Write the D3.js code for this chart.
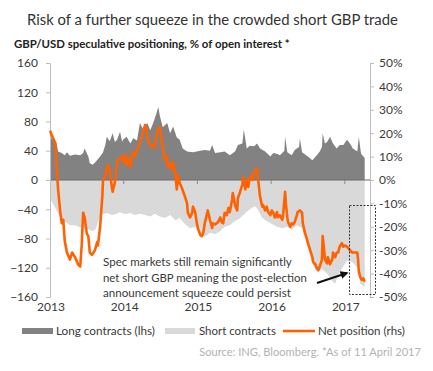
<!DOCTYPE html>
<html><head><meta charset="utf-8">
<script src="https://cdn.jsdelivr.net/npm/d3@7"></script>
<style>body{margin:0;background:#fff}svg{display:block}text{font-family:Lato,"Open Sans",sans-serif}</style>
</head><body><svg id="c" width="433" height="371"></svg>
<script>
// ---- data (decimal year, value) ----
const longContracts = [[2013.00,59],[2013.04,55],[2013.09,50],[2013.11,39],[2013.16,37],[2013.20,34],[2013.23,38],[2013.27,33],[2013.34,35],[2013.41,34],[2013.45,37],[2013.47,43],[2013.52,32],[2013.54,23],[2013.58,21],[2013.62,25],[2013.68,32],[2013.72,38],[2013.75,48],[2013.77,59],[2013.81,53],[2013.85,64],[2013.88,52],[2013.91,55],[2013.95,66],[2013.98,52],[2013.99,55],[2014.04,59],[2014.09,50],[2014.13,57],[2014.18,54],[2014.22,78],[2014.26,70],[2014.32,78],[2014.36,68],[2014.40,78],[2014.44,90],[2014.47,100],[2014.49,88],[2014.53,72],[2014.59,78],[2014.63,64],[2014.67,73],[2014.72,58],[2014.76,55],[2014.80,43],[2014.86,39],[2014.94,38],[2015.04,40],[2015.10,41],[2015.17,40],[2015.20,48],[2015.24,37],[2015.31,38],[2015.37,39],[2015.44,34],[2015.51,39],[2015.55,48],[2015.61,50],[2015.63,69],[2015.67,43],[2015.71,47],[2015.77,46],[2015.81,50],[2015.85,43],[2015.92,39],[2015.99,32],[2016.03,37],[2016.08,36],[2016.12,34],[2016.18,40],[2016.19,59],[2016.22,38],[2016.28,34],[2016.32,41],[2016.38,45],[2016.39,57],[2016.42,38],[2016.50,32],[2016.56,27],[2016.62,34],[2016.66,39],[2016.69,45],[2016.70,64],[2016.73,50],[2016.76,52],[2016.80,59],[2016.84,50],[2016.89,43],[2016.93,48],[2016.98,48],[2017.03,55],[2017.07,50],[2017.11,43],[2017.17,39],[2017.19,59],[2017.22,36],[2017.27,30]];

const shortContracts = [[2013.00,-25],[2013.04,-32],[2013.08,-40],[2013.12,-48],[2013.16,-56],[2013.22,-58],[2013.27,-62],[2013.34,-62],[2013.41,-65],[2013.47,-66],[2013.54,-68],[2013.58,-70],[2013.62,-67],[2013.65,-58],[2013.68,-50],[2013.72,-47],[2013.77,-45],[2013.84,-48],[2013.91,-46],[2013.95,-44],[2014.02,-47],[2014.09,-45],[2014.15,-48],[2014.22,-46],[2014.29,-48],[2014.36,-50],[2014.42,-46],[2014.49,-50],[2014.56,-52],[2014.63,-48],[2014.70,-55],[2014.76,-52],[2014.83,-60],[2014.90,-66],[2014.97,-64],[2015.04,-72],[2015.10,-78],[2015.17,-72],[2015.24,-74],[2015.31,-70],[2015.37,-64],[2015.44,-62],[2015.51,-56],[2015.58,-52],[2015.65,-45],[2015.71,-40],[2015.78,-36],[2015.82,-40],[2015.88,-52],[2015.94,-56],[2016.01,-60],[2016.08,-64],[2016.15,-66],[2016.22,-64],[2016.28,-68],[2016.35,-62],[2016.42,-66],[2016.46,-80],[2016.50,-92],[2016.56,-115],[2016.62,-126],[2016.69,-122],[2016.76,-128],[2016.83,-138],[2016.87,-142],[2016.91,-130],[2016.98,-118],[2017.03,-110],[2017.10,-112],[2017.17,-120],[2017.21,-142],[2017.27,-146]];

const netPosition = [[2013.00,21],[2013.04,18],[2013.07,16],[2013.09,5.5],[2013.11,-4],[2013.14,-14],[2013.16,-18.5],[2013.18,-17],[2013.20,-26],[2013.23,-31],[2013.27,-34],[2013.30,-31],[2013.34,-33],[2013.38,-36],[2013.41,-37],[2013.43,-28],[2013.45,-14],[2013.47,-16],[2013.50,-23],[2013.52,-24],[2013.54,-31],[2013.57,-32],[2013.61,-30],[2013.64,-26.5],[2013.65,-28],[2013.68,-20],[2013.71,-7],[2013.72,0],[2013.75,2],[2013.77,5.5],[2013.79,6.4],[2013.81,3.4],[2013.84,-3],[2013.85,-5],[2013.88,-1],[2013.91,7],[2013.92,8.5],[2013.98,10],[2013.99,7.7],[2014.02,10.7],[2014.04,6.4],[2014.06,9.4],[2014.09,5.5],[2014.11,10],[2014.13,12],[2014.15,10],[2014.18,12.8],[2014.19,13.7],[2014.22,16],[2014.25,18.5],[2014.26,20.5],[2014.29,23.5],[2014.32,20],[2014.33,17],[2014.36,15],[2014.38,14],[2014.40,15],[2014.42,14],[2014.45,20],[2014.47,22],[2014.49,22.6],[2014.52,16],[2014.53,13.7],[2014.56,8.5],[2014.59,10],[2014.60,5.5],[2014.63,7],[2014.66,4.3],[2014.67,7.7],[2014.70,3],[2014.72,-4],[2014.74,2],[2014.76,-1.3],[2014.79,-3.4],[2014.83,-7],[2014.86,-10],[2014.87,-14],[2014.90,-16],[2014.93,-14],[2014.94,-11.4],[2014.97,-13.7],[2014.99,-18],[2015.01,-21],[2015.04,-23.5],[2015.06,-24],[2015.08,-22.6],[2015.10,-18.5],[2015.14,-13],[2015.17,-17],[2015.20,-20.5],[2015.21,-18.5],[2015.24,-19],[2015.28,-18],[2015.31,-16],[2015.33,-18],[2015.35,-18.5],[2015.37,-14],[2015.40,-15],[2015.42,-12],[2015.44,-13.7],[2015.47,-8.5],[2015.48,-5.6],[2015.51,-10.7],[2015.54,-13],[2015.55,-7.7],[2015.58,-5],[2015.61,-2],[2015.62,1.3],[2015.65,-4],[2015.67,0],[2015.69,-3],[2015.71,0.9],[2015.74,2],[2015.75,0],[2015.78,4.3],[2015.81,5],[2015.82,1.3],[2015.85,-7],[2015.88,-11.4],[2015.89,-10.7],[2015.92,-13],[2015.94,-11.4],[2015.96,-13.7],[2015.99,-15],[2016.01,-13],[2016.03,-14],[2016.05,-16],[2016.08,-13.7],[2016.09,-16],[2016.12,-15],[2016.15,-17],[2016.16,-16],[2016.19,-5],[2016.20,-10],[2016.22,-16],[2016.23,-18],[2016.26,-20],[2016.28,-18.5],[2016.30,-19],[2016.32,-18],[2016.35,-15],[2016.36,-13.7],[2016.39,-13],[2016.42,-14],[2016.43,-18.5],[2016.46,-22.6],[2016.49,-25.6],[2016.50,-27],[2016.53,-30],[2016.56,-33],[2016.57,-35],[2016.60,-36],[2016.62,-37.6],[2016.64,-38.5],[2016.66,-37],[2016.69,-34],[2016.70,-24],[2016.72,-30],[2016.73,-34],[2016.76,-35.6],[2016.77,-33],[2016.80,-36],[2016.83,-34],[2016.84,-31],[2016.87,-33],[2016.89,-31],[2016.91,-31],[2016.93,-28.5],[2016.96,-27],[2016.98,-28.5],[2017.00,-28],[2017.03,-28.5],[2017.07,-30],[2017.10,-31],[2017.11,-31],[2017.17,-31],[2017.18,-34],[2017.19,-39],[2017.21,-41.5],[2017.23,-42.7],[2017.25,-42],[2017.27,-43.5]];

const leftTicks = [160,120,80,40,0,-40,-80,-120,-160];
const rightTicks = [50,40,30,20,10,0,-10,-20,-30,-40,-50];
const yearTicks = [2013,2014,2015,2016,2017];
const legendLabels = ["Long contracts (lhs)","Short contracts","Net position (rhs)"];
const title = "Risk of a further squeeze in the crowded short GBP trade";
const subtitle = "GBP/USD speculative positioning, % of open interest *";
const annotation = ["Spec markets still remain significantly","net short GBP meaning the post-election","announcement squeeze could persist"];
const source = "Source: ING, Bloomberg. *As of 11 April 2017";

// ---- colours ----
const cLong = "#828282", cShort = "#d9d9d9", cNet = "#ff6200", cText = "#3a3a3a";

const svg = d3.select("#c");
const x = d3.scaleLinear().domain([2013, 2017.274]).range([50, 365]);
const yL = d3.scaleLinear().domain([-160, 160]).range([297, 63]);
const yR = d3.scaleLinear().domain([-50, 50]).range([297, 63]);

function fit(sel, target) {
  const w = sel.node().getComputedTextLength();
  const fs = parseFloat(sel.attr("font-size"));
  sel.attr("font-size", (fs * target / w).toFixed(2));
}

// areas
svg.append("path").datum(shortContracts)
  .attr("fill", cShort)
  .attr("d", d3.area().x(d => x(d[0])).y0(yL(0)).y1(d => yL(d[1])));
svg.append("path").datum(longContracts)
  .attr("fill", cLong)
  .attr("d", d3.area().x(d => x(d[0])).y0(yL(0)).y1(d => yL(d[1])));

// zero line
svg.append("line").attr("x1", 50).attr("x2", 370).attr("y1", yL(0)).attr("y2", yL(0))
  .attr("stroke", "#6a6a6a").attr("stroke-width", 1);

// x ticks at zero line
svg.append("g").selectAll("line").data(yearTicks.slice(1)).join("line")
  .attr("x1", d => x(d)).attr("x2", d => x(d)).attr("y1", yL(0)).attr("y2", yL(0) + 4)
  .attr("stroke", "#888");

// left axis
const gL = svg.append("g").attr("transform", "translate(50,0)")
  .call(d3.axisLeft(yL).tickValues(leftTicks).tickSize(4).tickPadding(8));
gL.select(".domain").attr("stroke", "#bdbdbd");
gL.selectAll(".tick line").attr("stroke", "#bdbdbd");
gL.selectAll("text").attr("font-size", 12).attr("fill", cText).attr("font-family", "Lato");

// right axis
const gR = svg.append("g").attr("transform", "translate(370,0)")
  .call(d3.axisRight(yR).tickValues(rightTicks).tickFormat(d => d + "%").tickSize(4).tickPadding(5));
gR.select(".domain").attr("stroke", "#bdbdbd");
gR.selectAll(".tick line").attr("stroke", "#bdbdbd");
gR.selectAll("text").attr("font-size", 12).attr("fill", cText).attr("font-family", "Lato");

// year labels
svg.append("g").selectAll("text").data(yearTicks).join("text")
  .attr("x", d => x(d) + 1).attr("y", 311).attr("text-anchor", "middle")
  .attr("font-size", 12).attr("fill", cText).text(d => d);

// net line
svg.append("path").datum(netPosition)
  .attr("fill", "none").attr("stroke", cNet).attr("stroke-width", 2.6).attr("stroke-linejoin", "round")
  .attr("d", d3.line().x(d => x(d[0])).y(d => yR(d[1])));

// dotted box
svg.append("rect").attr("x", 349.5).attr("y", 205.5).attr("width", 26).attr("height", 89)
  .attr("fill", "none").attr("stroke", "#333").attr("stroke-width", 1).attr("stroke-dasharray", "2,1.5");

// arrow
svg.append("defs").append("marker").attr("id", "ah").attr("viewBox", "0 0 10 10")
  .attr("refX", 8).attr("refY", 5).attr("markerWidth", 4).attr("markerHeight", 4).attr("orient", "auto")
  .append("path").attr("d", "M0,0L10,5L0,10z").attr("fill", "#111");
svg.append("line").attr("x1", 317).attr("y1", 283).attr("x2", 347).attr("y2", 273)
  .attr("stroke", "#111").attr("stroke-width", 2).attr("marker-end", "url(#ah)");

// annotation
const annW = [189, 204, 188];
annotation.forEach((t, i) => {
  const s = svg.append("text").attr("x", 103).attr("y", 266 + i * 15.5)
    .attr("font-size", 12).attr("fill", cText).text(t);
  fit(s, annW[i]);
});

// title & subtitle
const tt = svg.append("text").attr("x", 27).attr("y", 25).attr("font-size", 15).attr("fill", "#333").text(title);
fit(tt, 371);
const st = svg.append("text").attr("x", 14).attr("y", 48).attr("font-size", 12).attr("font-weight", "bold")
  .attr("fill", "#222").text(subtitle);
fit(st, 276);

// legend
const lg = svg.append("g");
lg.append("rect").attr("x", 22).attr("y", 328).attr("width", 31).attr("height", 6).attr("fill", cLong);
lg.append("rect").attr("x", 165).attr("y", 328).attr("width", 30).attr("height", 6).attr("fill", cShort);
lg.append("line").attr("x1", 283).attr("x2", 315).attr("y1", 331).attr("y2", 331).attr("stroke", cNet).attr("stroke-width", 2.6);
const lgX = [56, 199, 318], lgW = [99, 77, 87];
legendLabels.forEach((t, i) => {
  const s = lg.append("text").attr("x", lgX[i]).attr("y", 335).attr("font-size", 12).attr("fill", cText).text(t);
  fit(s, lgW[i]);
});

// source
const so = svg.append("text").attr("x", 421).attr("y", 356).attr("text-anchor", "end")
  .attr("font-size", 11).attr("fill", "#b3b3b3").text(source);
fit(so, 222);
</script></body></html>
